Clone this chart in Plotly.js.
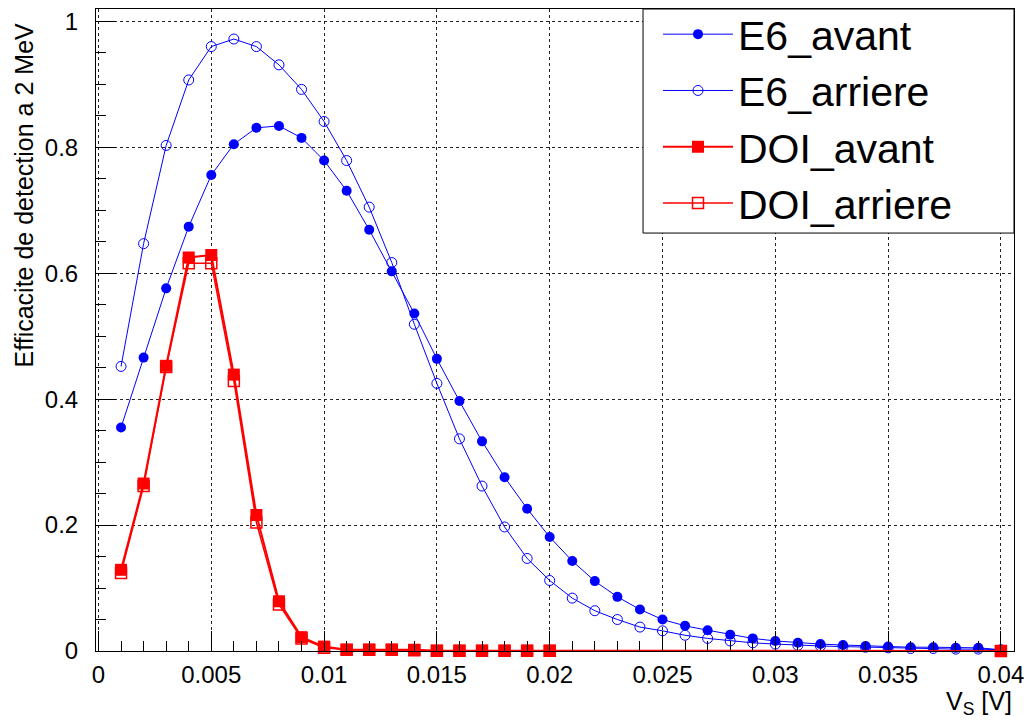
<!DOCTYPE html>
<html>
<head>
<meta charset="utf-8">
<script src="https://cdn.plot.ly/plotly-3.0.1.min.js"></script>
<style>html,body{margin:0;padding:0;background:#fff;}#chart{width:1029px;height:720px;}</style>
</head>
<body>
<div id="chart"></div>
<script>
// ---- data ----
const vs = [0.001,0.002,0.003,0.004,0.005,0.006,0.007,0.008,0.009,0.010,
            0.011,0.012,0.013,0.014,0.015,0.016,0.017,0.018,0.019,0.020,
            0.021,0.022,0.023,0.024,0.025,0.026,0.027,0.028,0.029,0.030,
            0.031,0.032,0.033,0.034,0.035,0.036,0.037,0.038,0.039,0.040];
const e6Avant = [0.355,0.466,0.576,0.674,0.756,0.805,0.831,0.834,0.815,0.779,
                 0.731,0.669,0.603,0.536,0.464,0.397,0.333,0.276,0.226,0.181,
                 0.143,0.111,0.086,0.066,0.050,0.040,0.033,0.026,0.020,0.016,
                 0.013,0.011,0.0095,0.008,0.007,0.006,0.006,0.005,0.005,0.002];
const e6Arriere = [0.452,0.647,0.803,0.907,0.960,0.972,0.960,0.931,0.892,0.841,
                   0.779,0.705,0.617,0.519,0.425,0.337,0.262,0.197,0.147,0.112,
                   0.084,0.064,0.050,0.038,0.032,0.025,0.020,0.016,0.013,0.011,
                   0.009,0.008,0.007,0.006,0.005,0.004,0.004,0.003,0.003,0.002];
const vsDoi = [0.001,0.002,0.003,0.004,0.005,0.006,0.007,0.008,0.009,0.010,
               0.011,0.012,0.013,0.014,0.015,0.016,0.017,0.018,0.019,0.020,0.040];
const doiAvant = [0.129,0.266,0.453,0.625,0.629,0.439,0.216,0.079,0.022,0.007,
                  0.002,0.002,0.002,0.002,0.0005,0.0005,0.0005,0.0005,0.0005,0.0005,0.0];
const doiArriere = [0.124,0.262,0.451,0.616,0.616,0.429,0.204,0.074,0.020,0.005,
                    0.002,0.002,0.002,0.001,0.0005,0.0005,0.0005,0.0005,0.0005,0.0005,0.0];
const seriesNames = ["E6_avant","E6_arriere","DOI_avant","DOI_arriere"];
const xTitle = "V<sub>S</sub> [V]";
const yTitle = "Efficacite de detection a 2 MeV";

const BLUE = "#0000ff", RED = "#ff0000";
const traces = [
  {x: vs, y: e6Avant, name: seriesNames[0], legendgroup: "a", mode: "lines+markers",
   line: {color: BLUE, width: 1}, marker: {symbol: "circle", size: 10, color: BLUE}, cliponaxis: false},
  {x: vs, y: e6Arriere, name: seriesNames[1], legendgroup: "b", mode: "lines+markers",
   line: {color: BLUE, width: 1}, marker: {symbol: "circle-open", size: 10, color: BLUE, line: {width: 1}}, cliponaxis: false},
  {x: vsDoi, y: doiAvant, name: seriesNames[2], legendgroup: "c", mode: "lines+markers",
   line: {color: RED, width: 2}, marker: {symbol: "square", size: 12, color: RED}, cliponaxis: false},
  {x: vsDoi, y: doiArriere, name: seriesNames[3], legendgroup: "d", mode: "lines+markers",
   line: {color: RED, width: 1.5}, marker: {symbol: "square-open", size: 11, color: RED, line: {width: 1.5}}, cliponaxis: false}
];

const FONT = "Liberation Sans, Arial, Helvetica, sans-serif";
const layout = {
  width: 1029, height: 720,
  paper_bgcolor: "#fff", plot_bgcolor: "#fff",
  margin: {l: 96, r: 15, t: 9, b: 69, autoexpand: false},
  font: {family: FONT, color: "#000"},
  showlegend: true,
  legend: {x: 0.6122, xanchor: "left", y: 0.9986, yanchor: "top", xref: "paper", yref: "container",
           bgcolor: "rgba(0,0,0,0)", borderwidth: 0,
           font: {family: FONT, size: 41, color: "#000"},
           traceorder: "grouped", tracegroupgap: 0, itemwidth: 70},
  shapes: [
    {type: "rect", xref: "paper", yref: "paper", x0: 0.5959, x1: 1.0, y0: 0.651, y1: 1.0,
     fillcolor: "#fff", line: {color: "#000", width: 1}, layer: "above"}
  ],
  xaxis: {range: [-0.00011, 0.04058], tickmode: "linear", tick0: 0, dtick: 0.005,
          ticks: "inside", ticklen: 20, tickwidth: 1, tickcolor: "#000",
          showline: true, linecolor: "#000", linewidth: 1, mirror: true,
          showgrid: true, gridcolor: "#222", griddash: "dot", gridwidth: 1,
          zeroline: false, tickfont: {size: 24, family: FONT}, ticklabelstandoff: 2,
          minor: {dtick: 0.001, ticks: "inside", ticklen: 10, tickcolor: "#000", showgrid: false}},
  yaxis: {range: [0, 1.0197], tickmode: "linear", tick0: 0, dtick: 0.2,
          ticks: "inside", ticklen: 20, tickwidth: 1, tickcolor: "#000",
          showline: true, linecolor: "#000", linewidth: 1, mirror: true,
          showgrid: true, gridcolor: "#222", griddash: "dot", gridwidth: 1,
          zeroline: false, tickfont: {size: 24, family: FONT}, ticklabelstandoff: 12,
          minor: {dtick: 0.05, ticks: "inside", ticklen: 10, tickcolor: "#000", showgrid: false}},
  annotations: [
    {text: xTitle, xref: "paper", yref: "paper", x: 1, xanchor: "right", y: -0.053, yanchor: "top",
     showarrow: false, font: {size: 25, family: FONT}},
    {text: yTitle, xref: "paper", yref: "paper", x: -0.0785, xanchor: "center", y: 0.711, yanchor: "middle",
     textangle: -90, showarrow: false, font: {size: 25, family: FONT}}
  ]
};
Plotly.newPlot("chart", traces, layout, {displayModeBar: false, staticPlot: true});
</script>
</body>
</html>
